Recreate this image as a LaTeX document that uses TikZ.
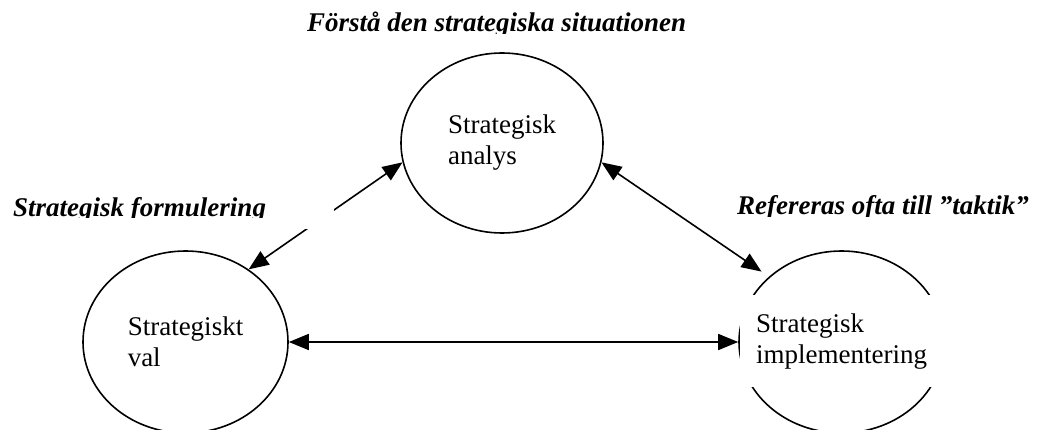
\documentclass[tikz,border=0pt]{standalone}
\usepackage{fontspec}
\setmainfont{Liberation Serif}
\usetikzlibrary{arrows.meta,shapes.geometric}
\begin{document}
\begin{tikzpicture}[x=1pt,y=-1pt,
  stage/.style={draw, line width=1.6pt, ellipse, inner sep=0pt, align=left,
    font=\fontsize{27}{31}\selectfont},
  stagetext/.style={inner sep=0pt, align=left, font=\fontsize{27}{31}\selectfont},
  link/.style={line width=1.6pt,
    {Triangle[length=20pt,width=16pt]}-{Triangle[length=20pt,width=16pt]}},
  lbl/.style={anchor=base west, inner sep=0pt,
    font=\fontsize{27}{31}\selectfont\bfseries\itshape}]
\useasboundingbox (0,0) rectangle (1038,430);

% stages
\node[stage, minimum width=202pt, minimum height=180pt] (analys) at (502,143) {Strategisk\\analys};
\node[stage, minimum width=205pt, minimum height=182pt] (val) at (185.5,342) {Strategiskt\\val};
\node[stage, minimum width=205pt, minimum height=182pt] (impl) at (841.5,342) {};

% connectors
\draw[link] (val.49.5) -- (analys.-169.5);
\draw[link, shorten >=9pt] (analys.-11) -- (impl.138.4);
\draw[link] (val.east) -- (impl.west);

% text boxes (white backgrounds)
\fill[white] (0,186) rectangle (334,229);
\fill[white] (739.6,295) rectangle (950,387);
\node[stagetext] (impltext) at (impl.center) {Strategisk\\implementering};

% labels
\begin{scope}
  \clip (0,0) rectangle (1038,33.5);
  \node[lbl] (situation) at (307,31.5) {Förstå den strategiska situationen};
\end{scope}
\begin{scope}
  \clip (0,150) rectangle (400,218);
  \node[lbl] (formulering) at (13,216.5) {Strategisk formulering};
\end{scope}
\begin{scope}
  \clip (700,150) rectangle (1038,216.5);
  \node[lbl] (taktik) at (737,215) {Refereras ofta till ”taktik”};
\end{scope}
\end{tikzpicture}
\end{document}
